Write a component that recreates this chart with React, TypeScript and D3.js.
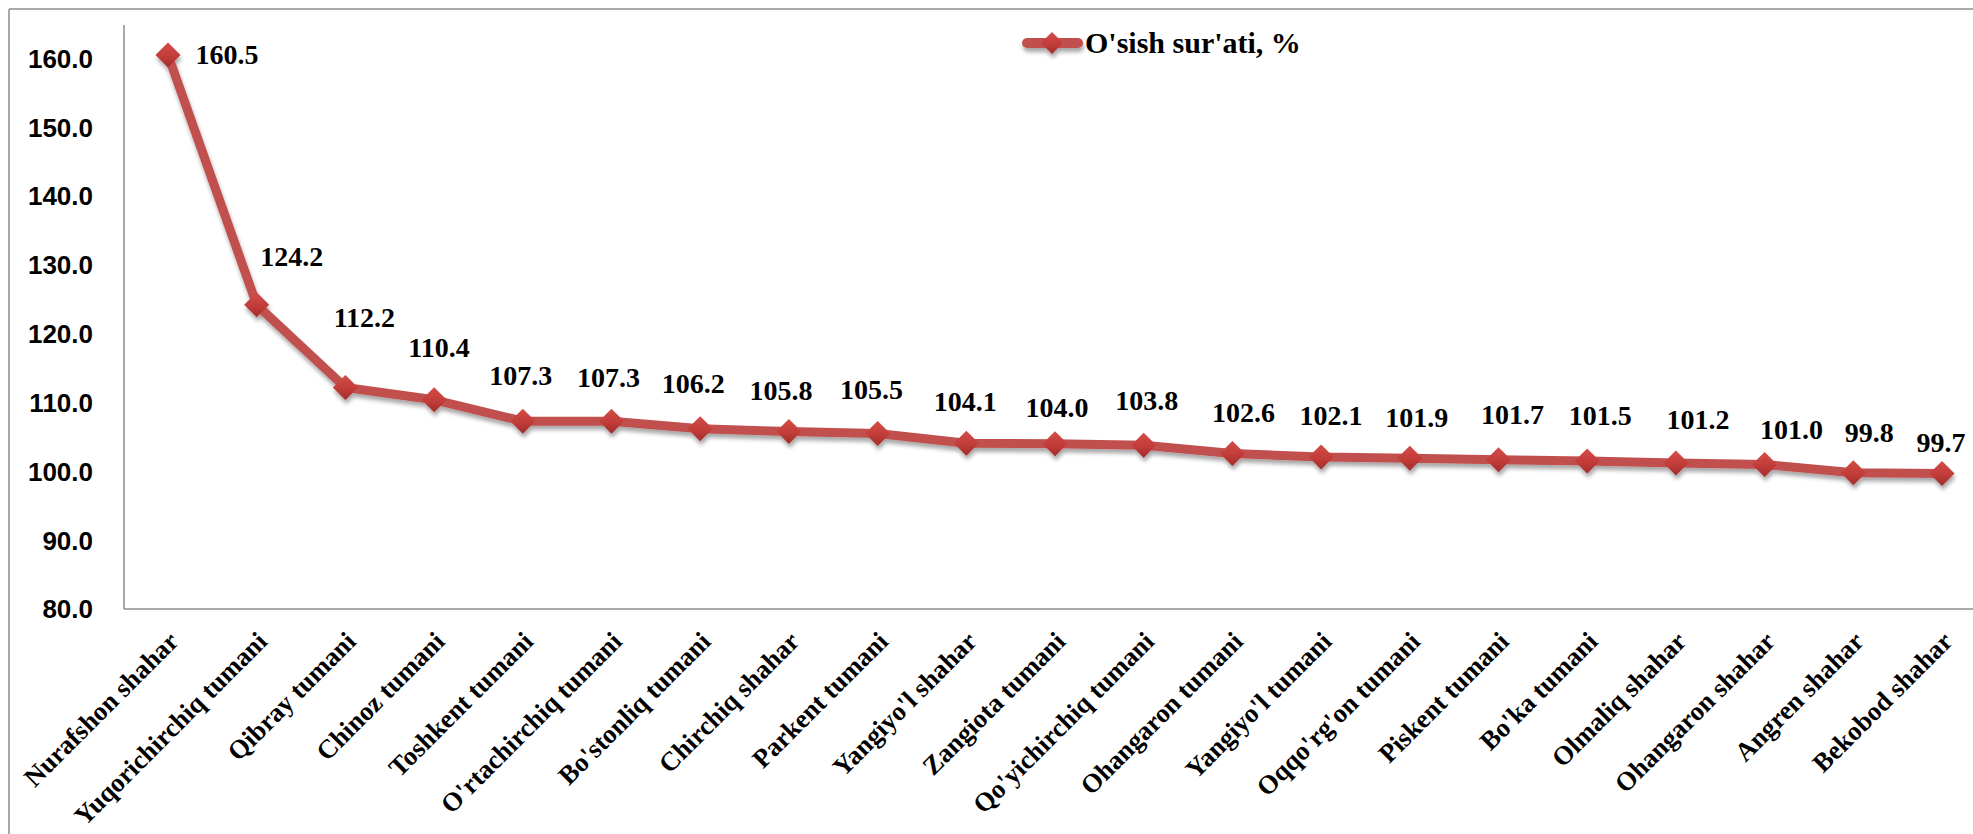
import React from "react";
import * as d3 from "d3";

const categories: string[] = [
  "Nurafshon shahar",
  "Yuqorichirchiq tumani",
  "Qibray tumani",
  "Chinoz tumani",
  "Toshkent tumani",
  "O'rtachirchiq tumani",
  "Bo'stonliq tumani",
  "Chirchiq shahar",
  "Parkent tumani",
  "Yangiyo'l shahar",
  "Zangiota tumani",
  "Qo'yichirchiq tumani",
  "Ohangaron tumani",
  "Yangiyo'l tumani",
  "Oqqo'rg'on tumani",
  "Piskent tumani",
  "Bo'ka tumani",
  "Olmaliq shahar",
  "Ohangaron shahar",
  "Angren shahar",
  "Bekobod shahar",
];

const growthRate: number[] = [
  160.5, 124.2, 112.2, 110.4, 107.3, 107.3, 106.2, 105.8, 105.5, 104.1, 104.0,
  103.8, 102.6, 102.1, 101.9, 101.7, 101.5, 101.2, 101.0, 99.8, 99.7,
];

const yTicks: number[] = [80, 90, 100, 110, 120, 130, 140, 150, 160];

const seriesName = "O'sish sur'ati, %";

// layout: label offsets (dx of label center, dy of baseline) relative to each point
const labelOffsets: [number, number][] = [
  [59, 9], [35, -39], [19, -60], [5, -43], [-2, -36], [-3, -34], [-7, -36],
  [-8, -31], [-6, -35], [-1, -32], [2, -27], [3, -35], [11, -31], [10, -32],
  [7, -31], [14, -36], [13, -36], [22, -34], [27, -25], [16, -31], [-1, -21],
];

const W = 1973;
const H = 834;
const LINE_COLOR = "#C0504D";
const AXIS_COLOR = "#8c8c8c";
const SERIF = "'Liberation Serif', 'Times New Roman', serif";
const SANS = "'Liberation Sans', Arial, sans-serif";

function diamond(cx: number, cy: number, r: number): string {
  return `M${cx},${cy - r}L${cx + r},${cy}L${cx},${cy + r}L${cx - r},${cy}Z`;
}

export default function App() {
  const plotLeft = 124;
  const axisY = 609;
  const axisTop = 25;

  const x = d3.scalePoint<string>().domain(categories).range([168, 1942]);
  const y = d3.scaleLinear().domain([80, 160]).range([axisY, 58.5]);

  const pts = categories.map((c, i) => [x(c) as number, y(growthRate[i])] as [number, number]);
  const lineGen = d3.line<[number, number]>().x((d) => d[0]).y((d) => d[1]);
  const fmt = d3.format(".1f");

  return (
    <div style={{ position: "fixed", left: 0, top: 0, width: W, height: H, background: "#fff" }}>
      <svg width={W} height={H} style={{ display: "block" }}>
        <defs>
          <linearGradient id="mk" x1="0" y1="0" x2="0" y2="1">
            <stop offset="0%" stopColor="#D44C48" />
            <stop offset="55%" stopColor="#C23C39" />
            <stop offset="100%" stopColor="#A02C2A" />
          </linearGradient>
          <filter id="sh" x="-20%" y="-20%" width="140%" height="150%">
            <feGaussianBlur in="SourceAlpha" stdDeviation="2.2" />
            <feOffset dx="1" dy="4" result="o" />
            <feComponentTransfer>
              <feFuncA type="linear" slope="0.35" />
            </feComponentTransfer>
            <feMerge>
              <feMergeNode />
              <feMergeNode in="SourceGraphic" />
            </feMerge>
          </filter>
        </defs>

        {/* outer frame */}
        <line x1={9} y1={9} x2={W} y2={9} stroke={AXIS_COLOR} strokeWidth={1.5} />
        <line x1={9} y1={9} x2={9} y2={H} stroke={AXIS_COLOR} strokeWidth={1.5} />

        {/* axes */}
        <line x1={plotLeft} y1={axisTop} x2={plotLeft} y2={axisY} stroke={AXIS_COLOR} strokeWidth={1.5} />
        <line x1={plotLeft} y1={axisY} x2={W} y2={axisY} stroke={AXIS_COLOR} strokeWidth={1.5} />

        {/* y tick labels */}
        {yTicks.map((t) => (
          <text
            key={t}
            x={93}
            y={y(t)}
            dy="0.36em"
            textAnchor="end"
            fontFamily={SANS}
            fontWeight="bold"
            fontSize={26}
            fill="#000"
          >
            {fmt(t)}
          </text>
        ))}

        {/* x category labels */}
        {categories.map((c) => (
          <text
            key={c}
            transform={`translate(${(x(c) as number) + 12},${axisY + 34}) rotate(-45)`}
            textAnchor="end"
            fontFamily={SERIF}
            fontWeight="bold"
            fontSize={26.5}
            fill="#000"
          >
            {c}
          </text>
        ))}

        {/* line + markers */}
        <g filter="url(#sh)">
          <path
            d={lineGen(pts) || ""}
            fill="none"
            stroke={LINE_COLOR}
            strokeWidth={9}
            strokeLinejoin="round"
            strokeLinecap="round"
          />
          {pts.map((p, i) => (
            <path key={i} d={diamond(p[0], p[1], 12.5)} fill="url(#mk)" />
          ))}
        </g>

        {/* data labels */}
        {pts.map((p, i) => (
          <text
            key={"l" + i}
            x={p[0] + labelOffsets[i][0]}
            y={p[1] + labelOffsets[i][1]}
            textAnchor="middle"
            fontFamily={SERIF}
            fontWeight="bold"
            fontSize={28}
            fill="#000"
          >
            {fmt(growthRate[i])}
          </text>
        ))}

        {/* legend */}
        <g filter="url(#sh)">
          <line x1={1027} y1={43} x2={1078} y2={43} stroke={LINE_COLOR} strokeWidth={10} strokeLinecap="round" />
          <path d={diamond(1052, 43, 11)} fill="url(#mk)" />
        </g>
        <text x={1085} y={53} fontFamily={SERIF} fontWeight="bold" fontSize={30} fill="#000">
          {seriesName}
        </text>
      </svg>
    </div>
  );
}
